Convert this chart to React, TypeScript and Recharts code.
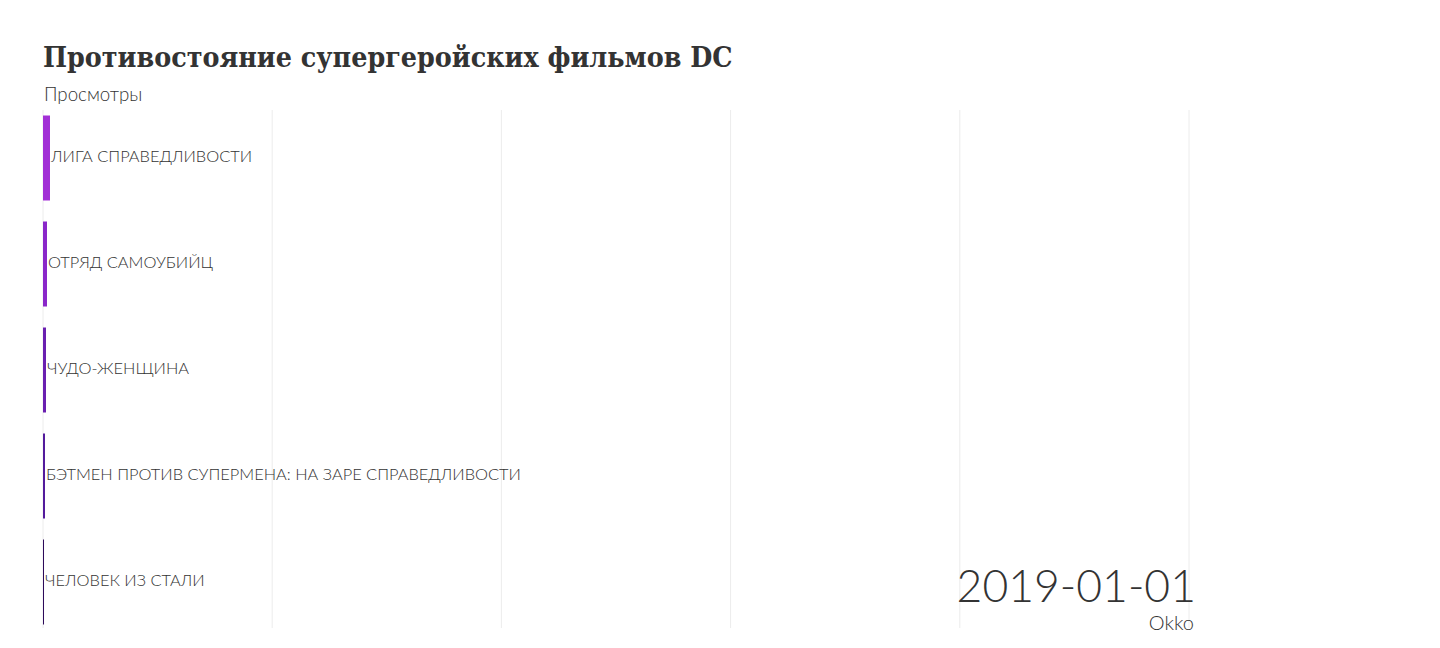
import React from "react";
import { BarChart, Bar, XAxis, YAxis, CartesianGrid, Cell, LabelList } from "recharts";

const films = [
  "ЛИГА СПРАВЕДЛИВОСТИ",
  "ОТРЯД САМОУБИЙЦ",
  "ЧУДО-ЖЕНЩИНА",
  "БЭТМЕН ПРОТИВ СУПЕРМЕНА: НА ЗАРЕ СПРАВЕДЛИВОСТИ",
  "ЧЕЛОВЕК ИЗ СТАЛИ",
];
const views = [305, 175, 130, 87, 44];
const colors = ["#a22fd6", "#8a27c9", "#6a1fb0", "#531a9c", "#2d0a5a"];
const xTicks = [0, 10000, 20000, 30000, 40000, 50000];
const title = "Противостояние супергеройских фильмов DC";
const subtitle = "Просмотры";
const dateLabel = "2019-01-01";
const source = "Okko";

const data = films.map((name, i) => ({ name, value: views[i] }));

const labelFont = "Lato, 'Open Sans', sans-serif";

const renderLabel = (props: any) => {
  const { x, y, width, height, value } = props;
  return (
    <text
      x={Number(x) + Number(width) + 1}
      y={Number(y) + Number(height) / 2 - 2.5}
      dominantBaseline="central"
      fontFamily={labelFont}
      fontWeight={300}
      fontSize={16.4}
      fill="#333"
    >
      {value}
    </text>
  );
};

export default function App() {
  return (
    <div style={{ position: "absolute", left: 0, top: 0, width: 1440, height: 648, background: "#fff" }}>
      <div
        style={{
          position: "absolute",
          left: 43,
          top: 40,
          fontFamily: "'DejaVu Serif', serif",
          fontWeight: 700,
          fontSize: 28.3,
          fontStretch: "condensed",
          color: "#333",
          whiteSpace: "nowrap",
        }}
      >
        {title}
      </div>
      <div
        style={{
          position: "absolute",
          left: 44,
          top: 83,
          fontFamily: labelFont,
          fontWeight: 300,
          fontSize: 18.7,
          color: "#333",
        }}
      >
        {subtitle}
      </div>
      <div style={{ position: "absolute", left: 0, top: 0 }}>
        <BarChart
          width={1440}
          height={648}
          data={data}
          layout="vertical"
          margin={{ top: 104.5, right: 251, bottom: 13.5, left: 43 }}
        >
          <CartesianGrid horizontal={false} stroke="#ececec" y={110} height={518} />
          <XAxis type="number" domain={[0, 50000]} ticks={xTicks} hide />
          <YAxis type="category" dataKey="name" hide />
          <Bar dataKey="value" barSize={85} isAnimationActive={false}>
            {data.map((d, i) => (
              <Cell key={d.name} fill={colors[i]} />
            ))}
            <LabelList dataKey="name" content={renderLabel} />
          </Bar>
        </BarChart>
      </div>
      <div
        style={{
          position: "absolute",
          right: 1440 - 1196,
          top: 561,
          fontFamily: labelFont,
          fontWeight: 300,
          fontSize: 44.5,
          color: "#333",
          lineHeight: "48px",
        }}
      >
        {dateLabel}
      </div>
      <div
        style={{
          position: "absolute",
          right: 1440 - 1194,
          top: 611,
          fontFamily: labelFont,
          fontWeight: 300,
          fontSize: 20,
          color: "#333",
          lineHeight: "22px",
        }}
      >
        {source}
      </div>
    </div>
  );
}
